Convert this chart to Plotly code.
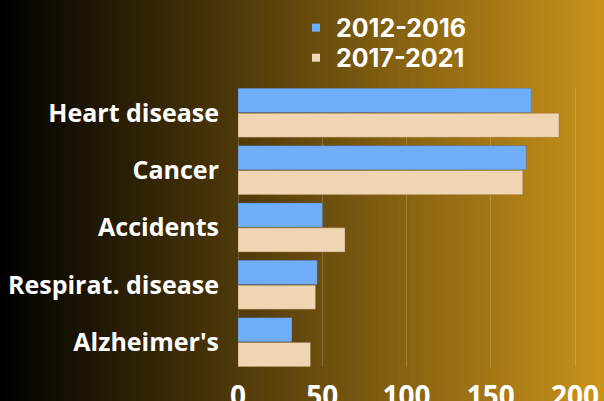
import plotly.graph_objects as go

categories = ["Heart disease", "Cancer", "Accidents", "Respirat. disease", "Alzheimer's"]
series_2012_2016 = [174, 171, 50, 47, 32]
series_2017_2021 = [190.5, 169, 63.5, 46, 43]
series_names = ["2012-2016", "2017-2021"]
x_ticks = [0, 50, 100, 150, 200]

blue = "#70AEFA"
tan = "#F0D5B2"

fig = go.Figure()
fig.add_trace(go.Bar(y=categories, x=series_2012_2016, orientation="h", name=series_names[0],
                     marker=dict(color=blue, line=dict(color="rgba(60,90,140,0.25)", width=1)),
                     showlegend=False))
fig.add_trace(go.Bar(y=categories, x=series_2017_2021, orientation="h", name=series_names[1],
                     marker=dict(color=tan, line=dict(color="rgba(150,110,60,0.4)", width=1)),
                     showlegend=False))
# legend entries with small square markers, one legend each
for nm, col, lg in zip(series_names, [blue, tan], ["legend", "legend2"]):
    fig.add_trace(go.Scatter(x=[None], y=[None], mode="markers", name=nm, legend=lg,
                             marker=dict(symbol="square", size=8, color=col)))

# gradient background as thin strips
shapes = []
n = 150
c0 = (0, 0, 0)
c1 = (201, 147, 27)
for i in range(n):
    t = i / (n - 1)
    col = "rgb(%d,%d,%d)" % tuple(round(a + (b - a) * t) for a, b in zip(c0, c1))
    shapes.append(dict(type="rect", xref="paper", yref="paper",
                       x0=-238/366 + (604/366) * i / n - 0.002,
                       x1=-238/366 + (604/366) * (i + 1) / n + 0.002,
                       y0=-0.2, y1=1.4, fillcolor=col, line=dict(width=0), layer="below"))

g = 0.133
ph = 278.6
legfont = dict(family="Inter", size=25, color="white", weight="bold")
fig.update_layout(
    width=604, height=401,
    margin=dict(l=238, r=0, t=88, b=34, autoexpand=False),
    paper_bgcolor="black", plot_bgcolor="rgba(0,0,0,0)",
    barmode="group", bargap=g, bargroupgap=0.03,
    shapes=shapes,
    legend=dict(x=(296 - 238) / 366, y=1 + (88 - 28) / ph,
                xanchor="left", yanchor="middle", bgcolor="rgba(0,0,0,0)",
                font=legfont, itemwidth=30),
    legend2=dict(x=(296 - 238) / 366, y=1 + (88 - 58) / ph,
                 xanchor="left", yanchor="middle", bgcolor="rgba(0,0,0,0)",
                 font=legfont, itemwidth=30),
    xaxis=dict(range=[0, 217.2], tickvals=x_ticks, showgrid=True, automargin=False,
               gridcolor="rgba(255,255,255,0.18)", gridwidth=1,
               zeroline=True, zerolinecolor="rgba(255,255,255,0.18)", zerolinewidth=1,
               tickfont=dict(family="Open Sans", size=28, color="white", weight="bold"),
               ticklabelstandoff=10, fixedrange=True),
    yaxis=dict(range=[4.5 - g / 2, -0.5 + g / 2], showgrid=False, automargin=False,
               tickfont=dict(family="Open Sans", size=25, color="white", weight="bold"),
               ticklabelstandoff=18, fixedrange=True),
)

fig.write_html("out.html", config={"displayModeBar": False},
               post_script="document.body.style.margin='0';")
